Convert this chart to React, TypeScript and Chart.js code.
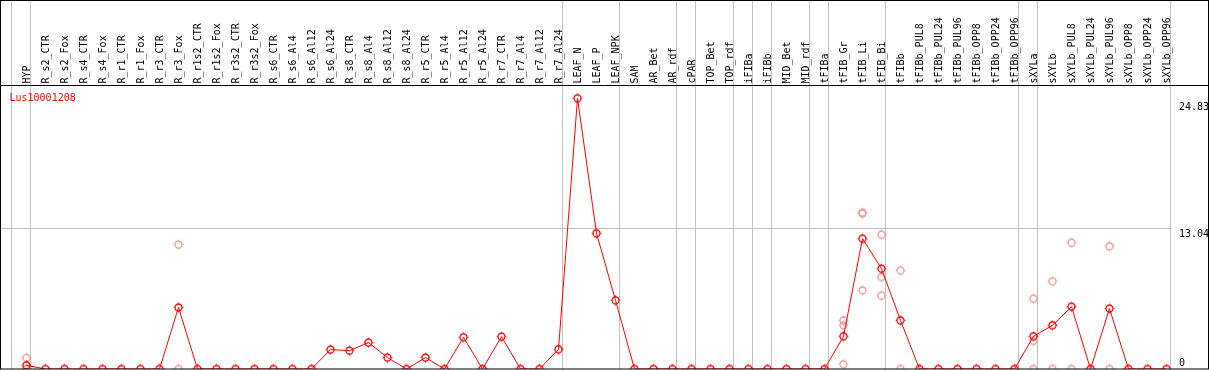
import React, { useEffect, useRef } from "react";
import { Chart, registerables } from "chart.js";

Chart.register(...registerables);

const geneId = "Lus10001208";

const categories = [
  "HYP",
  "R_s2_CTR", "R_s2_Fox", "R_s4_CTR", "R_s4_Fox", "R_r1_CTR", "R_r1_Fox",
  "R_r3_CTR", "R_r3_Fox", "R_r1s2_CTR", "R_r1s2_Fox", "R_r3s2_CTR", "R_r3s2_Fox",
  "R_s6_CTR", "R_s6_Al4", "R_s6_Al12", "R_s6_Al24",
  "R_s8_CTR", "R_s8_Al4", "R_s8_Al12", "R_s8_Al24",
  "R_r5_CTR", "R_r5_Al4", "R_r5_Al12", "R_r5_Al24",
  "R_r7_CTR", "R_r7_Al4", "R_r7_Al12", "R_r7_Al24",
  "LEAF_N", "LEAF_P", "LEAF_NPK",
  "SAM", "AR_Bet", "AR_rdf", "cPAR", "TOP_Bet", "TOP_rdf",
  "iFIBa", "iFIBb", "MID_Bet", "MID_rdf",
  "tFIBa", "tFIB_Gr", "tFIB_Li", "tFIB_Bi",
  "tFIBb", "tFIBb_PUL8", "tFIBb_PUL24", "tFIBb_PUL96", "tFIBb_OPP8", "tFIBb_OPP24", "tFIBb_OPP96",
  "sXYLa", "sXYLb", "sXYLb_PUL8", "sXYLb_PUL24", "sXYLb_PUL96", "sXYLb_OPP8", "sXYLb_OPP24", "sXYLb_OPP96",
];

const meanValues = [
  0.34,
  0, 0, 0, 0, 0, 0,
  0, 5.7, 0, 0, 0, 0,
  0, 0, 0, 1.8,
  1.7, 2.45, 1.06, 0,
  1.06, 0, 2.94, 0,
  3.0, 0, 0, 1.83,
  25.09, 12.58, 6.37,
  0, 0, 0, 0, 0, 0,
  0, 0, 0, 0,
  0, 3.03, 12.08, 9.3,
  4.51, 0, 0, 0, 0, 0, 0,
  3.03, 4.05, 5.78, 0, 5.6, 0, 0, 0,
];

// replicate samples: category index and value
const replicateIndex = [
  0, 0, 0,
  8, 8,
  43, 43, 43,
  44, 44, 44,
  45, 45, 45,
  46, 46,
  53, 53, 53,
  54, 54,
  55, 55,
  57, 57,
];
const replicateValues = [
  1.02, 0, 0,
  11.53, 0,
  4.5, 4.05, 0.44,
  14.5, 14.4, 7.29,
  12.45, 8.53, 6.8,
  9.12, 0,
  6.52, 2.6, 0,
  8.13, 0,
  11.71, 0,
  11.37, 0,
];

const yTickValues = [0, 13.04, 24.83];
const yGridValues = [13.04];
// last category index of each group (separator drawn after it)
const groupEnds = [-1, 0, 28, 31, 34, 35, 37, 38, 39, 41, 42, 45, 52, 53, 60];

const W = 1209;
const H = 370;
const FONT = "10px 'DejaVu Sans Mono', 'Liberation Mono', monospace";

function makeMarker(color: string): HTMLCanvasElement {
  const c = document.createElement("canvas");
  c.width = 13;
  c.height = 13;
  const g = c.getContext("2d")!;
  g.strokeStyle = color;
  g.lineWidth = 1.3;
  g.beginPath();
  g.arc(6.5, 6.5, 3.5, 0, Math.PI * 2);
  g.stroke();
  g.fillStyle = color;
  g.fillRect(6, 1.6, 1, 1);
  g.fillRect(6, 10.4, 1, 1);
  g.fillRect(1.6, 6, 1, 1);
  g.fillRect(10.4, 6, 1, 1);
  return c;
}

export default function App() {
  const ref = useRef<HTMLCanvasElement>(null);

  useEffect(() => {
    document.body.style.margin = "0";
    const canvas = ref.current;
    if (!canvas) return;

    const padLeft = 1;
    const padRight = 38;
    const padTop = 86;
    const padBottom = 1;
    const areaW = W - padLeft - padRight;
    const areaH = H - padTop - padBottom;
    const catStep = 19;
    const firstCat = 26.5;
    const xMin = -(firstCat - padLeft) / catStep;
    const xMax = xMin + areaW / catStep;
    const pxPerUnit = 10.79;
    const yMax = areaH / pxPerUnit;

    const redMarker = makeMarker("#ff0000");
    const pinkMarker = makeMarker("#f09a9a");

    const decor = {
      id: "decor",
      beforeDatasetsDraw(chart: any) {
        const ctx = chart.ctx;
        const xs = chart.scales.x;
        const ys = chart.scales.y;
        const area = chart.chartArea;
        ctx.save();
        ctx.strokeStyle = "#c3c3c3";
        ctx.lineWidth = 1;
        yGridValues.forEach((v) => {
          const y = Math.round(ys.getPixelForValue(v)) + 0.5;
          ctx.beginPath();
          ctx.moveTo(0, y);
          ctx.lineTo(area.right, y);
          ctx.stroke();
        });
        groupEnds.forEach((i) => {
          const x = Math.floor(xs.getPixelForValue(i) + 4) + 0.5;
          ctx.beginPath();
          ctx.moveTo(x, 0);
          ctx.lineTo(x, H);
          ctx.stroke();
        });
        ctx.restore();
      },
      afterDraw(chart: any) {
        const ctx = chart.ctx;
        const xs = chart.scales.x;
        const ys = chart.scales.y;
        const area = chart.chartArea;
        ctx.save();
        // header labels
        ctx.font = FONT;
        ctx.fillStyle = "#000000";
        categories.forEach((c, i) => {
          const x = xs.getPixelForValue(i);
          ctx.save();
          ctx.translate(x + 3.5, 83.5);
          ctx.rotate(-Math.PI / 2);
          ctx.textAlign = "left";
          ctx.textBaseline = "alphabetic";
          ctx.fillText(c, 0, 0);
          ctx.restore();
        });
        // right tick labels
        ctx.textAlign = "left";
        yTickValues.forEach((v) => {
          const y = ys.getPixelForValue(v);
          if (y + 12 > area.bottom) {
            ctx.textBaseline = "alphabetic";
            ctx.fillText(String(v), area.right + 8, y - 3);
          } else {
            ctx.textBaseline = "top";
            ctx.fillText(v.toFixed(2), area.right + 8, y + 1);
          }
        });
        // gene id
        ctx.fillStyle = "#ff0000";
        ctx.textBaseline = "alphabetic";
        ctx.fillText(geneId, 9.5, 101);
        // borders
        ctx.strokeStyle = "#000000";
        ctx.lineWidth = 1;
        ctx.strokeRect(0.5, 0.5, W - 1, H - 1.5);
        ctx.beginPath();
        ctx.moveTo(0, 85.5);
        ctx.lineTo(W, 85.5);
        ctx.stroke();
        ctx.restore();
      },
    };

    const chart = new Chart(canvas, {
      type: "line",
      data: {
        datasets: [
          {
            type: "line",
            data: meanValues.map((v, i) => ({ x: i, y: v })),
            borderColor: "#ff0000",
            borderWidth: 1,
            backgroundColor: "#ff0000",
            pointStyle: redMarker as any,
            pointRadius: 5,
            tension: 0,
            fill: false,
            order: 0,
          },
          {
            type: "scatter",
            data: replicateIndex.map((i, k) => ({ x: i, y: replicateValues[k] })),
            showLine: false,
            borderColor: "#f09a9a",
            backgroundColor: "#f09a9a",
            pointStyle: pinkMarker as any,
            pointRadius: 5,
            order: 1,
          } as any,
        ],
      },
      options: {
        animation: false,
        responsive: false,
        maintainAspectRatio: false,
        events: [],
        layout: {
          autoPadding: false,
          padding: { left: padLeft, right: padRight, top: padTop, bottom: padBottom },
        },
        scales: {
          x: { type: "linear", display: false, min: xMin, max: xMax },
          y: { type: "linear", display: false, min: 0, max: yMax },
        },
        plugins: {
          legend: { display: false },
          tooltip: { enabled: false },
        },
      },
      plugins: [decor],
    });

    return () => chart.destroy();
  }, []);

  return (
    <div style={{ width: W, height: H }}>
      <canvas ref={ref} width={W} height={H} style={{ display: "block", width: W, height: H }} />
    </div>
  );
}
